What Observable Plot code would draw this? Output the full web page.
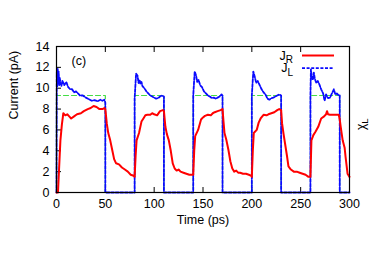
<!DOCTYPE html>
<html><head><meta charset="utf-8">
<script src="https://cdn.jsdelivr.net/npm/d3@7"></script>
<script src="https://cdn.jsdelivr.net/npm/@observablehq/plot@0.6"></script>
<style>body{margin:0;background:#fff}</style>
</head><body><div id="chart"></div>
<script>
// J_R (red solid)
const tR = [0,1.5,3,4,5.5,7,9,11,13,15,18,21,25,28,32,35,38,41,44,47,49,50,51.5,53,55,57,59,61,64,67,70,73,76,79,80,
  81,82,84.5,87,89,91,93,96,98,100,103,106,109,110,111.5,113,115,117,119,121,123,125,127,130,133,136,139,140,
  141,142,145,148,150,152,155,158,160,162,165,168,170,171,172,174,176,178,180,182,184,186,188,191,194,197,199.5,200,
  201,202,205,207,209,212,215,217,220,223,226,228,230,231,232.5,234,236,237.5,240,243,246,249,252,255,258,260,
  261,263,265,268,271,274,276,277,278,280,283,286,289,290,291,293,295,296,298,300];
const jR = [0,0,3,5,6.5,7.6,7.4,7.5,7.3,7.1,7.3,7.5,7.6,7.8,8.0,8.1,8.3,8.2,8.0,8.0,8.1,8.0,6.6,5.7,5.0,4.1,3.2,2.8,2.7,2.4,2.2,2.0,1.7,1.6,1.5,
  3.5,5.0,5.7,6.8,7.1,7.4,7.45,7.45,7.6,7.5,7.4,7.8,7.9,7.8,6.3,5.6,5.0,4.0,2.8,2.3,2.1,2.2,2.0,1.9,1.8,1.7,1.7,1.7,
  4.0,5.4,6.0,7.0,7.2,7.35,7.45,7.4,7.6,7.7,7.8,7.9,8.0,6.8,5.7,5.0,4.1,3.0,2.3,2.0,2.1,1.9,1.9,1.8,1.8,1.7,1.6,1.5,
  4.0,5.7,6.0,6.7,7.1,7.45,7.4,7.5,7.6,7.7,7.9,8.0,7.9,6.6,5.6,4.7,3.5,2.5,2.2,2.0,2.0,1.9,1.8,1.7,1.5,1.5,
  5.0,5.5,5.8,6.3,7.1,7.3,7.5,7.8,7.5,7.45,7.45,7.45,7.45,7.0,6.3,5.0,4.3,3.4,1.8,1.5];

// J_L (blue dashed)
const tL = [0,0.3,0.8,1.2,1.7,2.2,2.8,3.3,4,5,6,7,8,10,12,14,16,18,20,22,24,27,30,33,36,39,42,45,47,49,50,50,
  80,80,81.5,83,84,85,86,87,88,90,92,94,96,98,100,102,104,106,108,110,110,
  140,140,141.5,143,144,145.5,147,149,151,153,155,157,159,161,163,165,167,169,170,170,
  200,200,201.5,203,204.5,206,208,210,212,214,216,218,220,222,224,226,228,230,230,
  260,260,260.5,261.5,262.5,263.5,264.5,266,267.5,269,271,273,274.5,276,278,280,282,284,285.5,287,289,290,290,300];
const jL = [0,11.5,10.2,11.9,10.5,11.6,10.3,11.0,10.6,10.2,10.7,10.5,10.3,10.6,10.1,9.9,9.9,9.6,9.7,9.5,9.3,9.3,9.1,8.95,8.8,8.85,8.75,8.9,8.8,8.9,8.6,0,
  0,9.0,11.4,11.2,10.5,10.8,10.4,10.6,10.2,10.0,9.7,9.5,9.3,9.2,9.1,9.0,9.05,9.2,9.3,9.2,0,
  0,9.3,11.6,11.2,10.6,10.8,10.3,10.1,9.7,9.5,9.3,9.2,9.05,9.1,9.0,9.1,9.2,9.4,9.3,0,
  0,9.3,11.6,11.1,10.5,10.7,10.3,9.9,9.6,9.4,9.0,8.9,9.05,9.1,9.2,9.3,9.4,9.3,0,
  0,9.3,11.8,11.0,10.8,11.5,10.9,10.5,10.7,10.4,9.9,9.5,8.8,9.4,9.05,9.1,9.5,9.9,9.4,9.5,9.3,9.3,0,0];

// chi_L (green dashed square wave)
const tG = [0,0,50,50,80,80,110,110,140,140,170,170,200,200,230,230,260,260,290,290,300];
const jG = [0,9.3,9.3,0,0,9.3,9.3,0,0,9.3,9.3,0,0,9.3,9.3,0,0,9.3,9.3,0,0];

const xTicks = [0,50,100,150,200,250,300];
const xTopTicks = [50,100,150,200,250];
const yTicks = [0,2,4,6,8,10,12,14];

const W = 374, H = 262, mL = 56, mR = 25, mT = 46, mB = 70;
const FONT = "'Liberation Sans', Arial, sans-serif";
const red = tR.map((t,i)=>({t, v:jR[i]}));
const blue = tL.map((t,i)=>({t, v:jL[i]}));
const green = tG.map((t,i)=>({t, v:jG[i]}));

const chart = Plot.plot({
  width: W, height: H, marginLeft: mL, marginRight: mR, marginTop: mT, marginBottom: mB,
  style: {fontFamily: FONT, fontSize: "12px", background: "#fff", color: "#000"},
  x: {domain: [0,300]},
  y: {domain: [0,14]},
  marks: [
    Plot.axisX(xTicks, {anchor: "bottom", tickSize: 0, tickPadding: 7, label: null, fontSize: 12.5}),
    Plot.axisX(xTicks, {anchor: "bottom", tickSize: -5, tickFormat: () => "", label: null}),
    Plot.axisX(xTopTicks, {anchor: "top", tickSize: -5, tickFormat: () => "", label: null}),
    Plot.axisY(yTicks, {anchor: "left", tickSize: 0, tickPadding: 7, label: null, fontSize: 12.5}),
    Plot.axisY(yTicks, {anchor: "left", tickSize: -5, tickFormat: () => "", label: null}),
    Plot.line(green, {x: "t", y: "v", stroke: "#44dd44", strokeWidth: 1.2, strokeDasharray: "5,3"}),
    Plot.line(blue, {x: "t", y: "v", stroke: "#0a0aff", strokeWidth: 1.8, strokeDasharray: "3,1.6"}),
    Plot.line(red, {x: "t", y: "v", stroke: "#ff0000", strokeWidth: 2}),
    Plot.frame({stroke: "#000", strokeWidth: 1.2}),
    Plot.text(["Time (ps)"], {frameAnchor: "bottom", dy: 31, fontSize: 12.5}),
    Plot.text(["Current (pA)"], {frameAnchor: "left", dx: -43, rotate: -90, fontSize: 12.5}),
    Plot.text(["χL"], {frameAnchor: "right", dx: 12, dy: -1, rotate: -90, fontSize: 12}),
    Plot.text(["(c)"], {frameAnchor: "top-left", dx: 15, dy: 10, textAnchor: "start", fontSize: 12.5})
  ]
});
document.getElementById("chart").appendChild(chart);

const svg = d3.select(chart);
function subscript(sel, main, s){
  sel.text(null);
  sel.append("tspan").text(main);
  sel.append("tspan").attr("dy", "0.3em").attr("font-size", "9.5px").text(s);
}
svg.selectAll("text").filter(function(){ return this.textContent === "χL"; })
  .each(function(){ subscript(d3.select(this), "χ", "L"); });

// legend
const right = W - mR;
const leg = svg.append("g").attr("font-family", FONT).attr("font-size", "12.5px");
const items = [{label: "R", color: "#ff0000", dash: null, w: 2}, {label: "L", color: "#0a0aff", dash: "3,1.6", w: 1.8}];
items.forEach((it, i) => {
  const y = mT + 9.5 + i * 12.7;
  const tx = leg.append("text").attr("x", right - 56).attr("y", y).attr("dy", "0.32em").attr("text-anchor", "end");
  tx.append("tspan").text("J");
  tx.append("tspan").attr("dy", "0.35em").attr("font-size", "10px").text(it.label);
  leg.append("line").attr("x1", right - 47).attr("x2", right - 15).attr("y1", y).attr("y2", y)
    .attr("stroke", it.color).attr("stroke-width", it.w).attr("stroke-dasharray", it.dash);
});
</script>
</body></html>
